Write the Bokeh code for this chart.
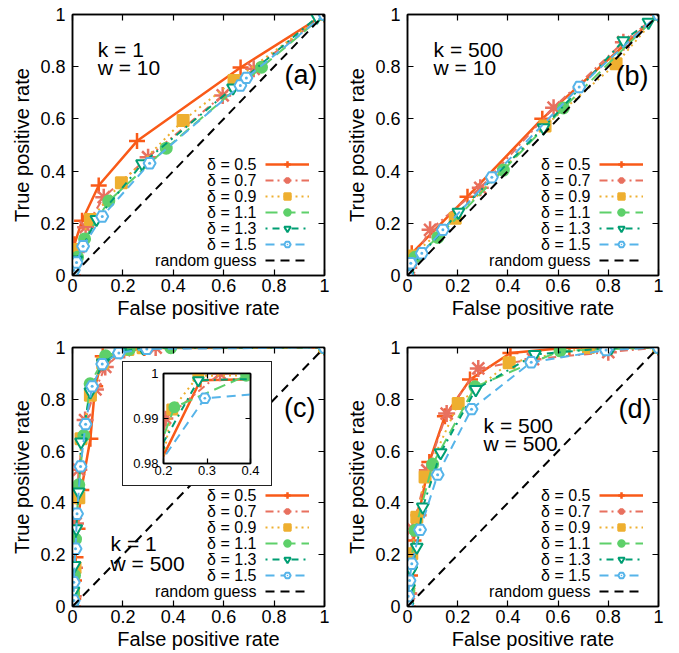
from bokeh.plotting import figure
from bokeh.models import FixedTicker, Legend, LegendItem, Label, LinearAxis, Range1d
from bokeh.layouts import column, row
from bokeh.embed import file_html
from bokeh.resources import INLINE
from bokeh.core.properties import value

# ---------------- data ----------------
deltas = ["0.5", "0.7", "0.9", "1.1", "1.3", "1.5"]
ticks = [0, 0.2, 0.4, 0.6, 0.8, 1]
tick_labels = ["0", "0.2", "0.4", "0.6", "0.8", "1"]
inset_xticks = [0.2, 0.3, 0.4]
inset_xlabels = ["0.2", "0.3", "0.4"]
inset_yticks = [0.98, 0.99, 1.0]
inset_ylabels = ["0.98", "0.99", "1"]
diag_x = [0, 1]
diag_y = [0, 1]

# panel (a): k = 1, w = 10
a_fpr_05 = [0, 0.003, 0.008, 0.038, 0.104, 0.256, 0.667, 1]
a_tpr_05 = [0, 0.06, 0.12, 0.21, 0.345, 0.515, 0.797, 1]
a_fpr_07 = [0, 0.005, 0.015, 0.052, 0.124, 0.30, 0.596, 0.719, 1]
a_tpr_07 = [0, 0.04, 0.09, 0.185, 0.30, 0.453, 0.69, 0.792, 1]
a_fpr_09 = [0, 0.004, 0.012, 0.071, 0.194, 0.439, 0.641, 1]
a_tpr_09 = [0, 0.05, 0.10, 0.215, 0.355, 0.594, 0.747, 1]
a_fpr_11 = [0, 0.005, 0.02, 0.048, 0.144, 0.372, 0.75, 1]
a_tpr_11 = [0, 0.03, 0.07, 0.14, 0.285, 0.488, 0.798, 1]
a_fpr_13 = [0, 0.004, 0.015, 0.095, 0.276, 0.637, 0.97, 1]
a_tpr_13 = [0, 0.03, 0.06, 0.215, 0.428, 0.719, 0.99, 1]
a_fpr_15 = [0, 0.005, 0.016, 0.042, 0.118, 0.306, 0.666, 0.69, 1]
a_tpr_15 = [0, 0.02, 0.05, 0.112, 0.226, 0.43, 0.728, 0.757, 1]

# panel (b): k = 500, w = 10
b_fpr_05 = [0, 0.005, 0.017, 0.239, 0.537, 1]
b_tpr_05 = [0, 0.04, 0.085, 0.302, 0.601, 1]
b_fpr_07 = [0, 0.005, 0.09, 0.29, 0.582, 0.86, 1]
b_tpr_07 = [0, 0.03, 0.175, 0.336, 0.643, 0.894, 1]
b_fpr_09 = [0, 0.017, 0.19, 0.548, 0.831, 1]
b_tpr_09 = [0, 0.075, 0.219, 0.573, 0.811, 1]
b_fpr_11 = [0, 0.03, 0.121, 0.382, 0.621, 1]
b_tpr_11 = [0, 0.07, 0.146, 0.404, 0.642, 1]
b_fpr_13 = [0, 0.01, 0.203, 0.542, 0.86, 0.96, 1]
b_tpr_13 = [0, 0.03, 0.242, 0.566, 0.90, 0.97, 1]
b_fpr_15 = [0, 0.013, 0.057, 0.141, 0.336, 0.684, 1]
b_tpr_15 = [0, 0.047, 0.085, 0.175, 0.376, 0.722, 1]

# panel (c): k = 1, w = 500
c_fpr_05 = [0, 0.003, 0.006, 0.012, 0.02, 0.035, 0.071, 0.09, 0.12, 0.285, 1]
c_tpr_05 = [0, 0.03, 0.1, 0.19, 0.30, 0.45, 0.648, 0.85, 0.966, 0.9985, 1]
c_fpr_07 = [0, 0.003, 0.008, 0.012, 0.025, 0.05, 0.091, 0.13, 0.205, 0.33, 1]
c_tpr_07 = [0, 0.04, 0.15, 0.32, 0.528, 0.72, 0.838, 0.925, 0.990, 1.0, 1]
c_fpr_09 = [0, 0.004, 0.01, 0.025, 0.034, 0.071, 0.12, 0.22, 0.28, 1]
c_tpr_09 = [0, 0.05, 0.15, 0.42, 0.648, 0.816, 0.94, 0.992, 0.9995, 1]
c_fpr_11 = [0, 0.004, 0.008, 0.012, 0.025, 0.045, 0.07, 0.131, 0.225, 0.39, 1]
c_tpr_11 = [0, 0.05, 0.12, 0.26, 0.47, 0.66, 0.86, 0.968, 0.9925, 0.9995, 1]
c_fpr_13 = [0, 0.004, 0.008, 0.015, 0.025, 0.034, 0.071, 0.12, 0.19, 0.28, 1]
c_tpr_13 = [0, 0.06, 0.158, 0.30, 0.442, 0.635, 0.829, 0.94, 0.983, 0.9985, 1]
c_fpr_15 = [0, 0.005, 0.005, 0.012, 0.018, 0.032, 0.052, 0.078, 0.118, 0.184, 0.295, 1]
c_tpr_15 = [0, 0.023, 0.094, 0.223, 0.358, 0.541, 0.704, 0.85, 0.936, 0.979, 0.9945, 1]

# panel (d): k = 500, w = 500
d_fpr_05 = [0, 0.004, 0.01, 0.024, 0.044, 0.087, 0.149, 0.249, 0.41, 0.645, 1]
d_tpr_05 = [0, 0.05, 0.12, 0.255, 0.352, 0.558, 0.735, 0.876, 0.979, 1.0, 1]
d_fpr_07 = [0, 0.005, 0.02, 0.079, 0.156, 0.282, 0.5, 0.8, 1]
d_tpr_07 = [0, 0.05, 0.3, 0.526, 0.745, 0.919, 0.955, 0.982, 1]
d_fpr_09 = [0, 0.005, 0.017, 0.037, 0.07, 0.202, 0.405, 0.721, 1]
d_tpr_09 = [0, 0.08, 0.204, 0.345, 0.5, 0.784, 0.941, 1.0, 1]
d_fpr_11 = [0, 0.005, 0.012, 0.03, 0.1, 0.269, 0.608, 1]
d_tpr_11 = [0, 0.06, 0.15, 0.294, 0.549, 0.848, 0.987, 1]
d_fpr_13 = [0, 0.006, 0.015, 0.037, 0.061, 0.132, 0.272, 0.507, 0.811, 1]
d_tpr_13 = [0, 0.07, 0.14, 0.229, 0.384, 0.594, 0.838, 0.973, 0.999, 1]
d_fpr_15 = [0, 0.003, 0.008, 0.017, 0.05, 0.12, 0.255, 0.493, 0.791, 1]
d_tpr_15 = [0, 0.04, 0.1, 0.165, 0.296, 0.509, 0.762, 0.943, 0.99, 1]

# ---------------- styles ----------------
FONT = "Liberation Sans"
STYLES = [
    dict(color="#F95A18", marker="cross", size=16, fill="#F95A18", dash="solid", lw=2.5, mlw=2.5),
    dict(color="#E8705F", marker="asterisk", size=17, fill="#E8705F", dash="8 4 2 4", lw=2, mlw=2.5),
    dict(color="#EEAF30", marker="square", size=11, fill="#EEAF30", dash="2 4", lw=2, mlw=2),
    dict(color="#5ED06A", marker="circle", size=11, fill="#5ED06A", dash="12 6", lw=2, mlw=2),
    dict(color="#009E73", marker="inverted_triangle", size=12, fill="white", dash="2 5 7 5", lw=2, mlw=2),
    dict(color="#56B4E9", marker="hex_dot", size=12, fill="white", dash="9 6", lw=2, mlw=2),
]


def setup_axis(ax, tks, lbls, show, font_size, standoff, tick_len, label_size=None, label_standoff=0):
    ax.ticker = FixedTicker(ticks=tks)
    ax.major_tick_in = tick_len
    ax.major_tick_out = 0
    ax.minor_tick_in = 0
    ax.minor_tick_out = 0
    ax.axis_line_color = "black"
    ax.axis_line_width = 1.5
    ax.major_tick_line_color = "black"
    ax.major_tick_line_width = 1.2
    ax.major_label_text_font = FONT
    if show:
        ax.major_label_overrides = {float(t): l for t, l in zip(tks, lbls)}
        ax.major_label_text_color = "black"
        ax.major_label_text_font_size = font_size
        ax.major_label_standoff = standoff
    else:
        ax.major_label_text_color = None
        ax.major_label_text_alpha = 0
        ax.major_label_text_font_size = "0px"
        ax.major_label_standoff = 0
    if label_size:
        ax.axis_label_text_font = FONT
        ax.axis_label_text_font_size = label_size
        ax.axis_label_text_font_style = "normal"
        ax.axis_label_text_color = "black"
        ax.axis_label_standoff = label_standoff


def add_series(p, series, size_scale=1.0):
    items = []
    for (fpr, tpr), st in zip(series, STYLES):
        ln = p.line(fpr, tpr, line_color=st["color"], line_width=st["lw"], line_dash=st["dash"])
        sc = p.scatter(fpr, tpr, marker=st["marker"], size=st["size"] * size_scale,
                       line_color=st["color"], fill_color=st["fill"], line_width=st["mlw"])
        items.append((ln, sc))
    return items


def make_panel(series, fw, fh, borders, texts):
    left, right, top, bottom = borders
    p = figure(frame_width=fw, frame_height=fh, x_range=Range1d(0, 1), y_range=Range1d(0, 1),
               output_backend="svg", toolbar_location=None,
               min_border_left=left, min_border_right=right,
               min_border_top=top, min_border_bottom=bottom,
               x_axis_label="False positive rate", y_axis_label="True positive rate")
    p.grid.visible = False
    p.outline_line_color = "black"
    p.outline_line_width = 1.5
    p.background_fill_color = "white"
    p.border_fill_color = "white"
    p.add_layout(LinearAxis(), "right")
    p.add_layout(LinearAxis(), "above")
    for ax in p.below:
        setup_axis(ax, ticks, tick_labels, True, "18px", 3, 6, "20px", 2)
    for ax in p.left:
        setup_axis(ax, ticks, tick_labels, True, "18px", 7, 6, "20px", 4)
    for ax in p.right + p.above:
        setup_axis(ax, ticks, tick_labels, False, "0px", 0, 6)

    pairs = add_series(p, series)
    diag = p.line(diag_x, diag_y, line_color="black", line_width=2, line_dash="9 6")

    # legend samples (line + marker) drawn by Bokeh's Legend; texts placed to their left
    legend_items = [LegendItem(label=value(""), renderers=[ln, sc]) for ln, sc in pairs]
    legend_items.append(LegendItem(label=value(""), renderers=[diag]))
    row_h = 16
    gw = 44
    legend = Legend(items=legend_items, location=(fw - 15 - gw, 7),
                    glyph_width=gw, glyph_height=row_h, label_width=0, label_height=row_h,
                    label_standoff=0, padding=0, margin=0, spacing=0,
                    border_line_color=None, background_fill_alpha=0,
                    label_text_font_size="1px", label_text_color=None, label_text_alpha=0)
    p.add_layout(legend)

    names = ["\u03b4 = " + d for d in deltas] + ["random guess"]
    n = len(names)
    for i, name in enumerate(names):
        yc = 7 + row_h / 2 + (n - 1 - i) * row_h
        p.add_layout(Label(x=(fw - 15 - gw - 9) / fw, y=yc / fh, text=name,
                           text_align="right", text_baseline="middle",
                           text_font=FONT, text_font_size="16px", text_color="black"))

    for (x, y, txt, size, align) in texts:
        p.add_layout(Label(x=x, y=y, text=txt, text_align=align, text_baseline="alphabetic",
                           text_font=FONT, text_font_size=size, text_color="black"))
    return p


FW_L, FW_R = 252, 251
FH_T, FH_B = 261, 259

pa = make_panel([(a_fpr_05, a_tpr_05), (a_fpr_07, a_tpr_07), (a_fpr_09, a_tpr_09),
                 (a_fpr_11, a_tpr_11), (a_fpr_13, a_tpr_13), (a_fpr_15, a_tpr_15)],
                FW_L, FH_T, (72, 13, 14, 46),
                [(0.10, 0.865, "k = 1", "21px", "left"), (0.10, 0.798, "w = 10", "21px", "left"),
                 (0.972, 0.77, "(a)", "27px", "right")])
pb = make_panel([(b_fpr_05, b_tpr_05), (b_fpr_07, b_tpr_07), (b_fpr_09, b_tpr_09),
                 (b_fpr_11, b_tpr_11), (b_fpr_13, b_tpr_13), (b_fpr_15, b_tpr_15)],
                FW_R, FH_T, (70, 12, 14, 46),
                [(0.104, 0.865, "k = 500", "21px", "left"), (0.104, 0.798, "w = 10", "21px", "left"),
                 (0.96, 0.766, "(b)", "27px", "right")])
c_series = [(c_fpr_05, c_tpr_05), (c_fpr_07, c_tpr_07), (c_fpr_09, c_tpr_09),
            (c_fpr_11, c_tpr_11), (c_fpr_13, c_tpr_13), (c_fpr_15, c_tpr_15)]
pc = make_panel(c_series, FW_L, FH_B, (72, 13, 26, 44),
                [(0.151, 0.243, "k = 1", "21px", "left"), (0.151, 0.166, "w = 500", "21px", "left"),
                 (0.964, 0.768, "(c)", "27px", "right")])
pd = make_panel([(d_fpr_05, d_tpr_05), (d_fpr_07, d_tpr_07), (d_fpr_09, d_tpr_09),
                 (d_fpr_11, d_tpr_11), (d_fpr_13, d_tpr_13), (d_fpr_15, d_tpr_15)],
                FW_R, FH_B, (70, 12, 26, 44),
                [(0.303, 0.699, "k = 500", "21px", "left"), (0.303, 0.629, "w = 500", "21px", "left"),
                 (0.972, 0.764, "(d)", "27px", "right")])

# ---------------- inset of (c) ----------------
inset = figure(frame_width=87, frame_height=90,
               x_range=Range1d(inset_xticks[0], inset_xticks[-1]),
               y_range=Range1d(inset_yticks[0], inset_yticks[-1]),
               output_backend="svg", toolbar_location=None,
               min_border_left=40, min_border_right=21, min_border_top=11, min_border_bottom=22)
inset.grid.visible = False
inset.outline_line_color = "black"
inset.outline_line_width = 1.5
inset.background_fill_color = "white"
inset.border_fill_color = "white"
inset.add_layout(LinearAxis(), "right")
inset.add_layout(LinearAxis(), "above")
for ax in inset.below:
    setup_axis(ax, inset_xticks, inset_xlabels, True, "13px", 2, 5)
for ax in inset.left:
    setup_axis(ax, inset_yticks, inset_ylabels, True, "13px", 5, 5)
for ax in inset.above:
    setup_axis(ax, inset_xticks, inset_xlabels, False, "0px", 0, 5)
for ax in inset.right:
    setup_axis(ax, inset_yticks, inset_ylabels, False, "0px", 0, 5)
add_series(inset, c_series, size_scale=0.9)
inset.styles = {"position": "absolute", "left": "123px", "top": "362px",
                "outline": "1.5px solid #222"}

root = column(row(pa, pb), row(pc, pd), inset, styles={"position": "relative"})

open("out.html", "w").write(file_html(root, INLINE))
